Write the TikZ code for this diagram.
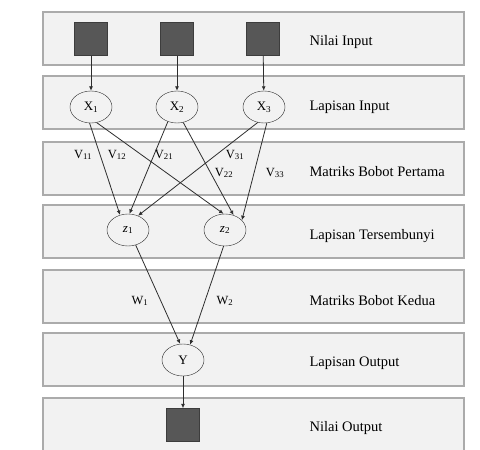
\documentclass[tikz,border=0pt]{standalone}
\usepackage{fontspec}
\setmainfont{Liberation Serif}
\usetikzlibrary{shapes.geometric,arrows.meta}
\definecolor{bandfill}{HTML}{F2F2F2}
\definecolor{bandline}{HTML}{ABABAB}
\definecolor{boxfill}{HTML}{575757}
\definecolor{wire}{HTML}{2E2E2E}
\tikzset{
  band/.style={draw=bandline,fill=bandfill,line width=1.2pt},
  unit/.style={draw=boxfill!70!black,fill=boxfill,minimum size=33pt,inner sep=0pt},
  neuron/.style={ellipse,draw=wire,fill=bandfill,minimum width=42pt,minimum height=32pt,inner sep=0pt,font=\fontsize{13}{15}\selectfont},
  wt/.style={-{Latex[length=4.5pt,width=4pt]},wire,line width=0.8pt},
  layer/.style={anchor=west,font=\fontsize{14.5}{17}\selectfont},
  wlab/.style={font=\fontsize{12.5}{14}\selectfont,inner sep=1pt},
}
\begin{document}
\begin{tikzpicture}[x=1pt,y=-1pt]
  \useasboundingbox (0,0) rectangle (480,450);
  % layer bands
  \foreach \t in {12,76,142,205,270,333,398}
    \draw[band] (43,\t) rectangle (464,\t+53);
  \node[layer] (l1) at (306,42) {Nilai Input};
  \node[layer] (l2) at (306,107) {Lapisan Input};
  \node[layer] (l3) at (306,172) {Matriks Bobot Pertama};
  \node[layer] (l4) at (306,236) {Lapisan Tersembunyi};
  \node[layer] (l5) at (306,301) {Matriks Bobot Kedua};
  \node[layer] (l6) at (306,363) {Lapisan Output};
  \node[layer] (l7) at (306,428) {Nilai Output};
  % units
  \node[unit] (in1) at (91,39) {};
  \node[unit] (in2) at (177,39) {};
  \node[unit] (in3) at (263,39) {};
  \node[neuron] (x1) at (91,107) {X\textsubscript{1}};
  \node[neuron] (x2) at (177,107) {X\textsubscript{2}};
  \node[neuron] (x3) at (264,107) {X\textsubscript{3}};
  \node[neuron] (z1) at (128,230) {\textit{z}\textsubscript{1}};
  \node[neuron] (z2) at (225,230) {\textit{z}\textsubscript{2}};
  \node[neuron] (y) at (183,360) {Y};
  \node[unit] (out) at (183,425) {};
  % connections
  \draw[wt] (in1) -- (x1);
  \draw[wt] (in2) -- (x2);
  \draw[wt] (in3) -- (x3);
  \draw[wt] (x1.-95) -- (z1.118);
  \draw[wt] (x1.-70) -- (z2.95);
  \draw[wt] (x2.-122) -- (z1.85);
  \draw[wt] (x2.-68) -- (z2.60);
  \draw[wt] (x3.-112) -- (z1.55);
  \draw[wt] (x3.-80) -- (z2.30);
  \draw[wt] (z1.-63) -- (y.100);
  \draw[wt] (z2.-95) -- (y.65);
  \draw[wt] (y) -- (out);
  % weights
  \node[wlab] (v11) at (83,155) {V\textsubscript{11}};
  \node[wlab] (v12) at (117,155) {V\textsubscript{12}};
  \node[wlab] (v21) at (164,155) {V\textsubscript{21}};
  \node[wlab] (v31) at (235,155) {V\textsubscript{31}};
  \node[wlab] (v22) at (224,173) {V\textsubscript{22}};
  \node[wlab] (v33) at (275,173) {V\textsubscript{33}};
  \node[wlab] (w1) at (140,301) {W\textsubscript{1}};
  \node[wlab] (w2) at (225,301) {W\textsubscript{2}};
\end{tikzpicture}
\end{document}
